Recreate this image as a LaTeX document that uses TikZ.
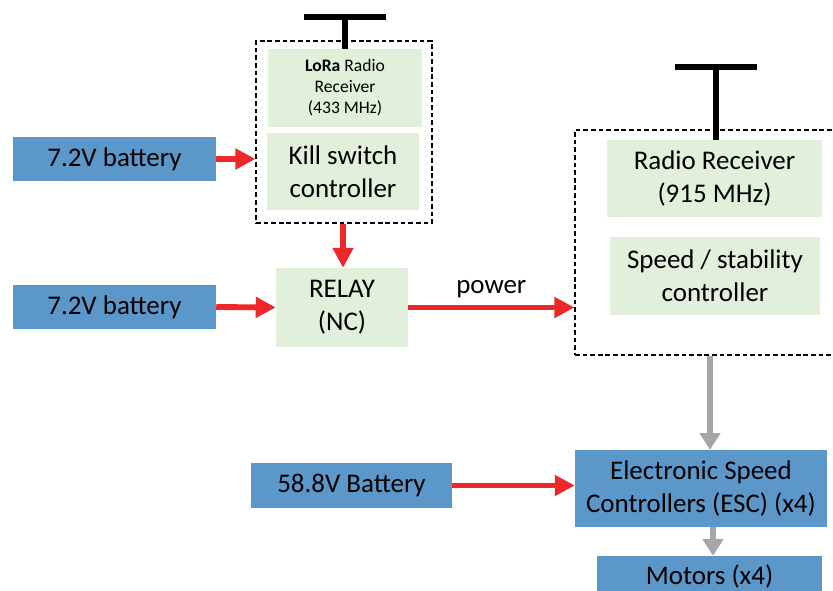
\documentclass[tikz,border=0pt]{standalone}
\usepackage{fontspec}
\setmainfont{Carlito}
\usepackage{xcolor}
\usetikzlibrary{arrows.meta,positioning}
\definecolor{battblue}{RGB}{92,151,202}
\definecolor{boxgreen}{RGB}{226,239,218}
\definecolor{wirered}{RGB}{236,40,40}
\definecolor{siggray}{RGB}{166,166,166}

\begin{document}
\begin{tikzpicture}[x=0.03cm, y=-0.03cm,
  blue box/.style={fill=battblue, inner sep=0pt, align=center,
        font=\fontsize{23}{28}\selectfont},
  green box/.style={fill=boxgreen, inner sep=0pt, align=center,
        font=\fontsize{23}{28}\selectfont},
  dash box/.style={draw, dash pattern=on 4pt off 2.5pt, line width=1pt, inner sep=0pt},
  power/.style={wirered, line width=5pt, -{Triangle[length=0.6cm, width=0.6cm]}},
  signal/.style={siggray, line width=5pt, -{Triangle[length=0.5cm, width=0.6cm]}},
  antenna/.style={line width=4.5pt}]
  \useasboundingbox (0,0) rectangle (833,591);

  % batteries
  \node[blue box, minimum width=6.09cm, minimum height=1.32cm] (bat1) at (114.5,159) {7.2V battery};
  \node[blue box, minimum width=6.09cm, minimum height=1.32cm] (bat2) at (114.5,307) {7.2V battery};
  \node[blue box, minimum width=6.03cm, minimum height=1.35cm] (bat3) at (351.5,485.5) {58.8V Battery};

  % kill switch side
  \node[dash box, minimum width=5.28cm, minimum height=5.46cm] (kill) at (344,132) {};
  \node[green box, minimum width=4.62cm, minimum height=2.34cm, font=\fontsize{15}{18}\selectfont]
        (lora) at (345,88) {\textbf{LoRa} Radio\\Receiver\\(433 MHz)};
  \node[green box, minimum width=4.56cm, minimum height=2.31cm] (ksw) at (343,171.5) {Kill switch\\controller};
  \node[green box, minimum width=3.96cm, minimum height=2.37cm] (relay) at (342,307.5) {RELAY\\(NC)};

  % flight controller side
  \node[dash box, minimum width=8.7cm, minimum height=6.75cm] (fc) at (720,242.5) {};
  \coordinate (fx) at (710,0);
  \node[green box, minimum width=6.45cm, minimum height=2.31cm] (radio) at (714.5,178.5) {Radio Receiver\\(915 MHz)};
  \node[green box, minimum width=6.3cm, minimum height=2.34cm] (speed) at (715,276) {Speed / stability\\controller};
  \node[blue box, minimum width=7.56cm, minimum height=2.31cm] (esc) at (701,488.5) {Electronic Speed\\Controllers (ESC) (x4)};
  \node[blue box, minimum width=6.75cm, minimum height=1.26cm] (motors) at (709.5,577) {Motors (x4)};

  % antennas
  \coordinate (ant1) at (345,17);
  \coordinate (ant2) at (716,67);
  \coordinate (mx) at (713,0);
  \draw[antenna] ([xshift=-1.23cm]ant1) -- ([xshift=1.23cm]ant1);
  \draw[antenna] (ant1) -- (lora.north);
  \draw[antenna] ([xshift=-1.22cm]ant2) -- ([xshift=1.22cm]ant2);
  \draw[antenna] (ant2) -- (ant2 |- radio.north);

  % wiring
  \draw[power] (bat1.east) -- (kill.west |- bat1.east);
  \draw[power] (kill.south -| ksw) -- (relay.north -| ksw);
  \draw[power] (bat2.east) -- (relay.west);
  \draw[power] (relay.east) -- node[above=0.08cm, black, font=\fontsize{23}{28}\selectfont] {power} (fc.west |- relay.east);
  \draw[power] (bat3.east) -- (esc.west |- bat3.east);
  \draw[signal] (fc.south -| fx) -- (esc.north -| fx);
  \draw[signal] (esc.south -| mx) -- (motors.north -| mx);
\end{tikzpicture}
\end{document}
